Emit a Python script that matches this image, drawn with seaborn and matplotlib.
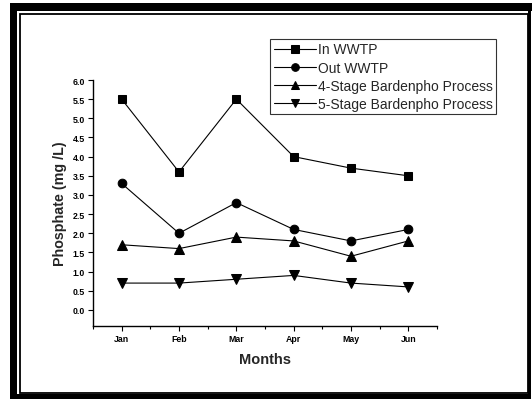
import numpy as np
import pandas as pd
import matplotlib
matplotlib.use("Agg")
import matplotlib.pyplot as plt
from matplotlib.patches import Rectangle
from matplotlib.ticker import FixedLocator
import seaborn as sns

months = ["Jan", "Feb", "Mar", "Apr", "May", "Jun"]
in_wwtp = [5.5, 3.6, 5.5, 4.0, 3.7, 3.5]
out_wwtp = [3.3, 2.0, 2.8, 2.1, 1.8, 2.1]
stage4 = [1.7, 1.6, 1.9, 1.8, 1.4, 1.8]
stage5 = [0.7, 0.7, 0.8, 0.9, 0.7, 0.6]
series_names = ["In WWTP", "Out WWTP", "4-Stage Bardenpho Process", "5-Stage Bardenpho Process"]
series_values = [in_wwtp, out_wwtp, stage4, stage5]
series_markers = ["s", "o", "^", "v"]
y_ticks = [0.0, 0.5, 1.0, 1.5, 2.0, 2.5, 3.0, 3.5, 4.0, 4.5, 5.0, 5.5, 6.0]

sns.set_theme(style="ticks")
plt.rcParams["font.family"] = ["Liberation Sans", "DejaVu Sans"]

W, H = 532, 402
fig = plt.figure(figsize=(W / 100, H / 100), dpi=100)
fig.patch.set_facecolor("white")

def px_ax(l, t, r, b):
    return [l / W, 1 - b / H, (r - l) / W, (b - t) / H]

ax = fig.add_axes(px_ax(93, 81, 437, 327))
ax.set_facecolor("white")

xpos = np.arange(len(months))
rows = []
for name, vals in zip(series_names, series_values):
    for x, v in zip(xpos, vals):
        rows.append({"x": x, "value": v, "series": name})
df = pd.DataFrame(rows)

msizes = {"s": 6, "o": 6.2, "^": 7, "v": 7}
for name, mk in zip(series_names, series_markers):
    sub = df[df["series"] == name]
    sns.lineplot(data=sub, x="x", y="value", ax=ax, color="black", linewidth=0.8,
                 marker=mk, markersize=msizes[mk], markeredgecolor="black",
                 markerfacecolor="black", label=name)

ax.set_xlim(-0.5, 5.5)
ax.set_ylim(-0.42, 6.0)
ax.set_xticks(xpos)
ax.set_xticklabels(months)
ax.xaxis.set_minor_locator(FixedLocator(np.arange(-0.5, 5.51, 1.0)))
ax.set_yticks(y_ticks)
ax.set_yticklabels([f"{v:.1f}" for v in y_ticks])

for s in ["top", "right"]:
    ax.spines[s].set_visible(False)
for s in ["left", "bottom"]:
    ax.spines[s].set_linewidth(1.0)
    ax.spines[s].set_color("black")

ax.tick_params(axis="both", which="major", direction="out", length=3.5, width=0.8,
               colors="black", pad=2.5)
ax.tick_params(axis="x", which="minor", direction="out", length=2.5, width=0.8, colors="black")
for lab in ax.get_xticklabels() + ax.get_yticklabels():
    lab.set_fontsize(6.3)
    lab.set_fontweight("bold")

ax.set_xlabel("Months", fontsize=10.5, fontweight="bold", labelpad=6)
ax.set_ylabel("Phosphate (mg /L)", fontsize=10.3, fontweight="bold", labelpad=4)

leg = ax.legend(loc="upper right", bbox_to_anchor=(496 / W, 1 - 40 / H),
                bbox_transform=fig.transFigure, frameon=True, fancybox=False,
                fontsize=10, handlelength=3.0, handletextpad=0.15, labelspacing=0.3,
                borderpad=0.25, borderaxespad=0)
leg.get_frame().set_edgecolor("black")
leg.get_frame().set_linewidth(0.8)
for line in leg.get_lines():
    line.set_linewidth(0.8)
    line.set_markersize(5.5)

# page frame
def rect(l, t, r, b, **kw):
    fig.add_artist(Rectangle((l / W, 1 - b / H), (r - l) / W, (b - t) / H,
                             transform=fig.transFigure, **kw))

rect(10, 4, 532, 12, facecolor="black", edgecolor="none")
rect(10, 4, 17, 400, facecolor="black", edgecolor="none")
rect(10, 395, 531, 400, facecolor="black", edgecolor="none")
rect(528, 4, 531, 400, facecolor="black", edgecolor="none")
rect(19.5, 14.5, 528, 393.5, facecolor="none", edgecolor="black", linewidth=1.3)

fig.savefig("out.png", dpi=100)
